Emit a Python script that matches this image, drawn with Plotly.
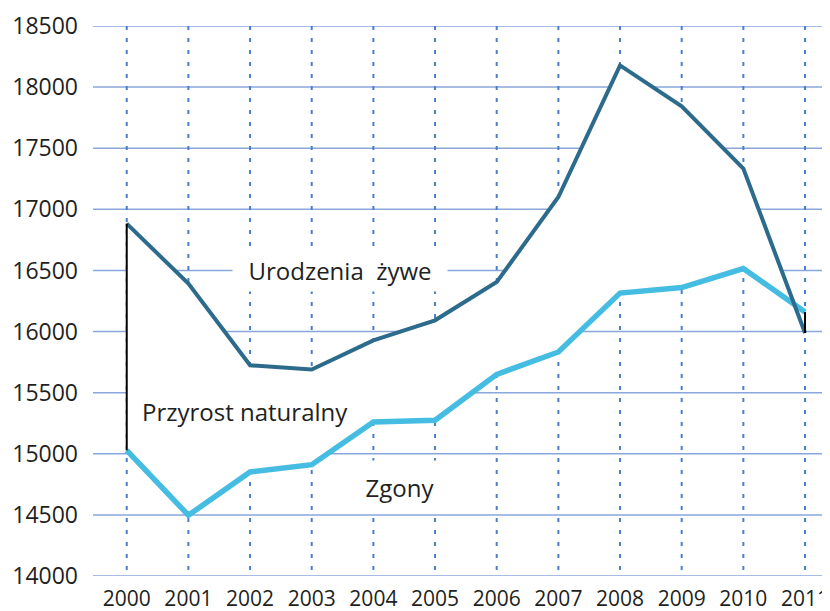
import plotly.graph_objects as go

years = list(range(2000, 2012))
urodzenia = [16883, 16392, 15724, 15689, 15928, 16092, 16405, 17101, 18178, 17843, 17333, 15988]
zgony = [15028, 14497, 14851, 14911, 15260, 15274, 15650, 15833, 16315, 16360, 16515, 16160]
y_ticks = [14000, 14500, 15000, 15500, 16000, 16500, 17000, 17500, 18000, 18500]
labels = ["Urodzenia  żywe", "Przyrost naturalny", "Zgony"]

X_RANGE = [1999.453, 2011.405]
Y_RANGE = [y_ticks[0], y_ticks[-1]]

FONT = "Open Sans"
TXT = "#231f20"

fig = go.Figure()

# grid as shapes under the traces
for v in y_ticks:
    fig.add_shape(type="line", xref="paper", yref="y", x0=0, x1=1, y0=v, y1=v,
                  layer="below", line=dict(color="#8aa6da", width=1.5))
for yr in years:
    fig.add_shape(type="line", xref="x", yref="paper", x0=yr, x1=yr, y0=1, y1=0,
                  layer="below", line=dict(color="#4a7ec8", width=2, dash="4px,8px"))

# white area between the two curves, hiding the grid there
pts = list(zip(years, urodzenia)) + list(zip(years[::-1], zgony[::-1]))
path = "M " + " L ".join(f"{x},{y}" for x, y in pts) + " Z"
fig.add_shape(type="path", xref="x", yref="y", path=path, layer="below",
              fillcolor="#ffffff", line=dict(width=0))

# deaths (light)
fig.add_trace(go.Scatter(x=years, y=zgony, mode="lines",
                         line=dict(color="#45bde2", width=5.5), hoverinfo="skip"))
# births (dark)
fig.add_trace(go.Scatter(x=years, y=urodzenia, mode="lines",
                         line=dict(color="#2c6b8b", width=4), hoverinfo="skip"))
# natural increase high-low lines at first and last year
for i in (0, len(years) - 1):
    fig.add_trace(go.Scatter(x=[years[i], years[i]], y=[urodzenia[i], zgony[i]],
                             mode="lines", line=dict(color="black", width=2),
                             hoverinfo="skip"))

fig.add_annotation(x=2003.46, y=16500, text=labels[0], showarrow=False,
                   bgcolor="white", width=212, height=40,
                   font=dict(family=FONT, size=24, color=TXT))
fig.add_annotation(x=2001.92, y=15348, text=labels[1], showarrow=False,
                   font=dict(family=FONT, size=24, color=TXT))
fig.add_annotation(x=2004.43, y=14726, text=labels[2], showarrow=False,
                   bgcolor="white", width=84, height=50,
                   font=dict(family=FONT, size=24, color=TXT))

# page body adds an 8px margin, so the figure is 8px smaller than the window
fig.update_layout(
    width=822, height=603,
    margin=dict(l=85, r=0, t=18, b=35),
    paper_bgcolor="white", plot_bgcolor="white",
    showlegend=False,
    font=dict(family=FONT, size=23, color=TXT),
)
fig.update_xaxes(range=X_RANGE, tickmode="array", tickvals=years,
                 ticktext=[str(y) for y in years],
                 showgrid=False, zeroline=False, showline=False, ticks="",
                 ticklabelstandoff=8, ticklabeloverflow="allow",
                 automargin=False, tickfont=dict(family=FONT, size=21, color=TXT))
fig.update_yaxes(range=Y_RANGE, tickmode="array", tickvals=y_ticks,
                 ticktext=[str(v) for v in y_ticks],
                 showgrid=False, zeroline=False, showline=False, ticks="",
                 ticklabelstandoff=14,
                 automargin=False, tickfont=dict(family=FONT, size=23, color=TXT))

fig.write_html("out.html")
